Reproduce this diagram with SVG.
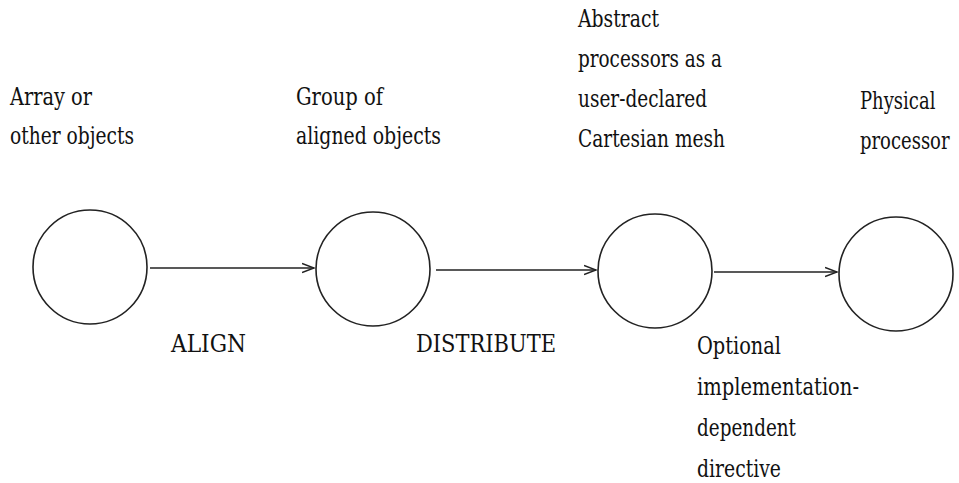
<svg xmlns="http://www.w3.org/2000/svg" width="959" height="483" viewBox="0 0 959 483">
<style>
.n{fill:none;stroke:#222;stroke-width:1.6}
.c{stroke:#222;stroke-width:1.6;fill:none}
.t{font-family:'DejaVu Serif','Liberation Serif','Times New Roman',serif;font-size:22px;fill:#111}
.s{font-size:18px}
</style>
<defs>
<marker id="ah" markerWidth="14" markerHeight="12" refX="12" refY="6" orient="auto" markerUnits="userSpaceOnUse">
<path d="M0,1.5 L12,6 L0,10.5" fill="none" stroke="#222" stroke-width="1.6"/>
</marker>
</defs>
<rect width="959" height="483" fill="#fff"/>
<g id="connectors">
<line class="c" x1="150" y1="268" x2="314" y2="268" marker-end="url(#ah)"/>
<line class="c" x1="436" y1="270" x2="596" y2="270" marker-end="url(#ah)"/>
<line class="c" x1="714" y1="272" x2="837" y2="272" marker-end="url(#ah)"/>
</g>
<g id="node-array">
<circle class="n" cx="90" cy="267" r="57"/>
<text class="t" transform="translate(10,105) scale(1,1.1)" textLength="82" lengthAdjust="spacingAndGlyphs">Array or</text>
<text class="t" transform="translate(10,144) scale(1,1.1)" textLength="124" lengthAdjust="spacingAndGlyphs">other objects</text>
</g>
<g id="node-group">
<circle class="n" cx="373" cy="269" r="57"/>
<text class="t" transform="translate(296,105) scale(1,1.1)" textLength="87" lengthAdjust="spacingAndGlyphs">Group of</text>
<text class="t" transform="translate(296,144) scale(1,1.1)" textLength="145" lengthAdjust="spacingAndGlyphs">aligned objects</text>
</g>
<g id="node-abstract">
<circle class="n" cx="655" cy="271" r="57"/>
<text class="t" transform="translate(578,27) scale(1,1.1)" textLength="81" lengthAdjust="spacingAndGlyphs">Abstract</text>
<text class="t" transform="translate(578,67) scale(1,1.1)" textLength="144" lengthAdjust="spacingAndGlyphs">processors as a</text>
<text class="t" transform="translate(578,107) scale(1,1.1)" textLength="129" lengthAdjust="spacingAndGlyphs">user-declared</text>
<text class="t" transform="translate(578,147) scale(1,1.1)" textLength="147" lengthAdjust="spacingAndGlyphs">Cartesian mesh</text>
</g>
<g id="node-physical">
<circle class="n" cx="896" cy="274" r="57"/>
<text class="t s" transform="translate(860,109) scale(1,1.34)">Physical</text>
<text class="t s" transform="translate(860,149) scale(1,1.34)">processor</text>
</g>
<g id="labels">
<text class="t" transform="translate(171,352) scale(1,1.1)" textLength="75" lengthAdjust="spacingAndGlyphs">ALIGN</text>
<text class="t" transform="translate(416,352) scale(1,1.1)" textLength="140" lengthAdjust="spacingAndGlyphs">DISTRIBUTE</text>
<text class="t" transform="translate(697,354) scale(1,1.1)" textLength="84" lengthAdjust="spacingAndGlyphs">Optional</text>
<text class="t" transform="translate(697,395) scale(1,1.1)" textLength="162" lengthAdjust="spacingAndGlyphs">implementation-</text>
<text class="t" transform="translate(697,436) scale(1,1.1)" textLength="99" lengthAdjust="spacingAndGlyphs">dependent</text>
<text class="t" transform="translate(697,477) scale(1,1.1)" textLength="84" lengthAdjust="spacingAndGlyphs">directive</text>
</g>
</svg>
